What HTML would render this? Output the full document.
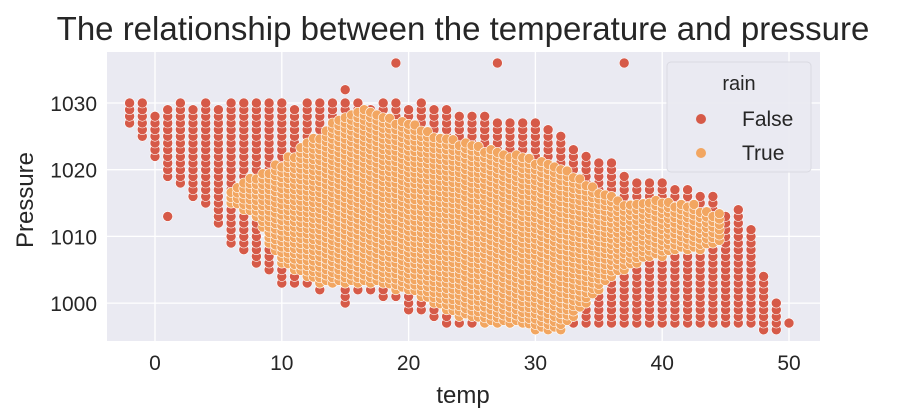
<!DOCTYPE html>
<html><head><meta charset="utf-8"><style>
body{margin:0;background:#fff;}
svg{display:block;font-family:"Liberation Sans",sans-serif;}
</style></head><body>
<svg id="c" width="900" height="420">
<text x="463" y="40" text-anchor="middle" font-size="33" fill="#262626">The relationship between the temperature and pressure</text>
<rect x="107" y="52" width="713" height="289" fill="#eaeaf2"/>
<g id="grid"></g>
<g id="red"></g>
<g id="orange"></g>
<g id="out"></g>
<g id="ticks"></g>
<text x="463" y="403" text-anchor="middle" font-size="24" fill="#262626">temp</text>
<text transform="translate(33,200) rotate(-90)" text-anchor="middle" font-size="24" fill="#262626">Pressure</text>
<g>
<rect x="667" y="62" width="144" height="110" rx="4" fill="#eaeaf2" stroke="#d8d8e0" opacity="0.9"/>
<text x="739" y="90" text-anchor="middle" font-size="20" fill="#262626">rain</text>
<circle cx="701" cy="119" r="5" fill="#d65a48"/>
<text x="742" y="126" font-size="21" fill="#262626">False</text>
<circle cx="701" cy="153" r="5" fill="#f2a661"/>
<text x="742" y="160" font-size="21" fill="#262626">True</text>
</g>
</svg>
<script>
const redTemps=[-2,-1,0,1,2,3,4,5,6,7,8,9,10,11,12,13,14,15,16,17,18,19,20,21,22,23,24,25,26,27,28,29,30,31,32,33,34,35,36,37,38,39,40,41,42,43,44,45,46,47,48,49,50];
const redMax=[1030,1030,1028,1029,1030,1029,1030,1029,1030,1030,1030,1030,1030,1029,1030,1030,1030,1030,1030,1029,1030,1030,1029,1030,1029,1029,1028,1028,1028,1027,1027,1027,1027,1026,1025,1023,1022,1021,1021,1019,1018,1018,1018,1017,1017,1016,1016,1013,1014,1011,1004,1000,997];
const redMin=[1027,1025,1022,1019,1018,1016,1015,1012,1009,1008,1006,1005,1003,1003,1003,1002,1003,1000,1002,1002,1001,1001,999,999,998,997,997,997,997,997,997,997,997,997,997,997,997,997,997,997,997,997,997,997,997,997,997,997,997,997,996,996,997];
const trueTemps=[6,7,8,9,10,11,12,13,14,15,16,17,18,19,20,21,22,23,24,25,26,27,28,29,30,31,32,33,34,35,36,37,38,39,40,41,42,43,44];
const trueMax=[1017,1018,1019,1020,1021,1022,1024,1025,1027,1028,1029,1029,1028,1027,1027,1026,1025,1025,1024,1024,1023,1023,1022,1022,1021,1021,1020,1019,1018,1017,1016,1015,1015,1015,1015,1015,1015,1014,1013];
const trueMin=[1015,1014,1013,1009,1006,1005,1004,1003,1003,1003,1003,1003,1003,1002,1002,1001,1000,999,998,998,997,997,997,997,996,996,996,998,1000,1002,1004,1005,1006,1007,1007,1008,1008,1008,1009];
const outTemps=[1,15,19,27,37];
const outPress=[1013,1032,1036,1036,1036];
const xTicks=[0,10,20,30,40,50];
const yTicks=[1000,1010,1020,1030];
const X=t=>155+t*12.68, Y=p=>103+(1030-p)*6.67;
const NS='http://www.w3.org/2000/svg';
function circ(g,x,y,fill,r,name){const c=document.createElementNS(NS,'circle');c.setAttribute('cx',x.toFixed(1));c.setAttribute('cy',y.toFixed(1));c.setAttribute('r',r);c.setAttribute('fill',fill);c.setAttribute('stroke','#fff');c.setAttribute('stroke-width','0.6');


g.appendChild(c);}
const grid=document.getElementById('grid'),ticks=document.getElementById('ticks');
xTicks.forEach(t=>{const l=document.createElementNS(NS,'line');l.setAttribute('x1',X(t));l.setAttribute('x2',X(t));l.setAttribute('y1',52);l.setAttribute('y2',341);l.setAttribute('stroke','#fff');l.setAttribute('stroke-width','1.3');


grid.appendChild(l);
const tx=document.createElementNS(NS,'text');tx.setAttribute('x',X(t));tx.setAttribute('y',370);tx.setAttribute('text-anchor','middle');tx.setAttribute('font-size','21');tx.setAttribute('fill','#262626');tx.textContent=t;


ticks.appendChild(tx);});
yTicks.forEach(p=>{const l=document.createElementNS(NS,'line');l.setAttribute('x1',107);l.setAttribute('x2',820);l.setAttribute('y1',Y(p));l.setAttribute('y2',Y(p));l.setAttribute('stroke','#fff');l.setAttribute('stroke-width','1.3');


grid.appendChild(l);
const tx=document.createElementNS(NS,'text');tx.setAttribute('x',97);tx.setAttribute('y',Y(p)+8);tx.setAttribute('text-anchor','end');tx.setAttribute('font-size','21');tx.setAttribute('fill','#262626');tx.textContent=p;


ticks.appendChild(tx);});
const red=document.getElementById('red');
redTemps.forEach((t,i)=>{for(let p=redMin[i];p<=redMax[i];p+=1)circ(red,X(t),Y(p),'#d65a48',5,'point-false');});
const og=document.getElementById('orange');
trueTemps.forEach((t,i)=>{const next=i<trueTemps.length-1?i+1:i;
for(let k=0;k<2;k++){const tt=t+k*0.5;const hi=k?(trueMax[i]+trueMax[next])/2:trueMax[i];const lo=k?(trueMin[i]+trueMin[next])/2:trueMin[i];
for(let p=lo;p<=hi+0.01;p+=0.8)circ(og,X(tt),Y(p+(k?0.4:0)),'#f2a661',5,'point-true');}});
const out=document.getElementById('out');
outTemps.forEach((t,i)=>circ(out,X(t),Y(outPress[i]),'#d65a48',5,'outlier-point'));
</script>
</body></html>
